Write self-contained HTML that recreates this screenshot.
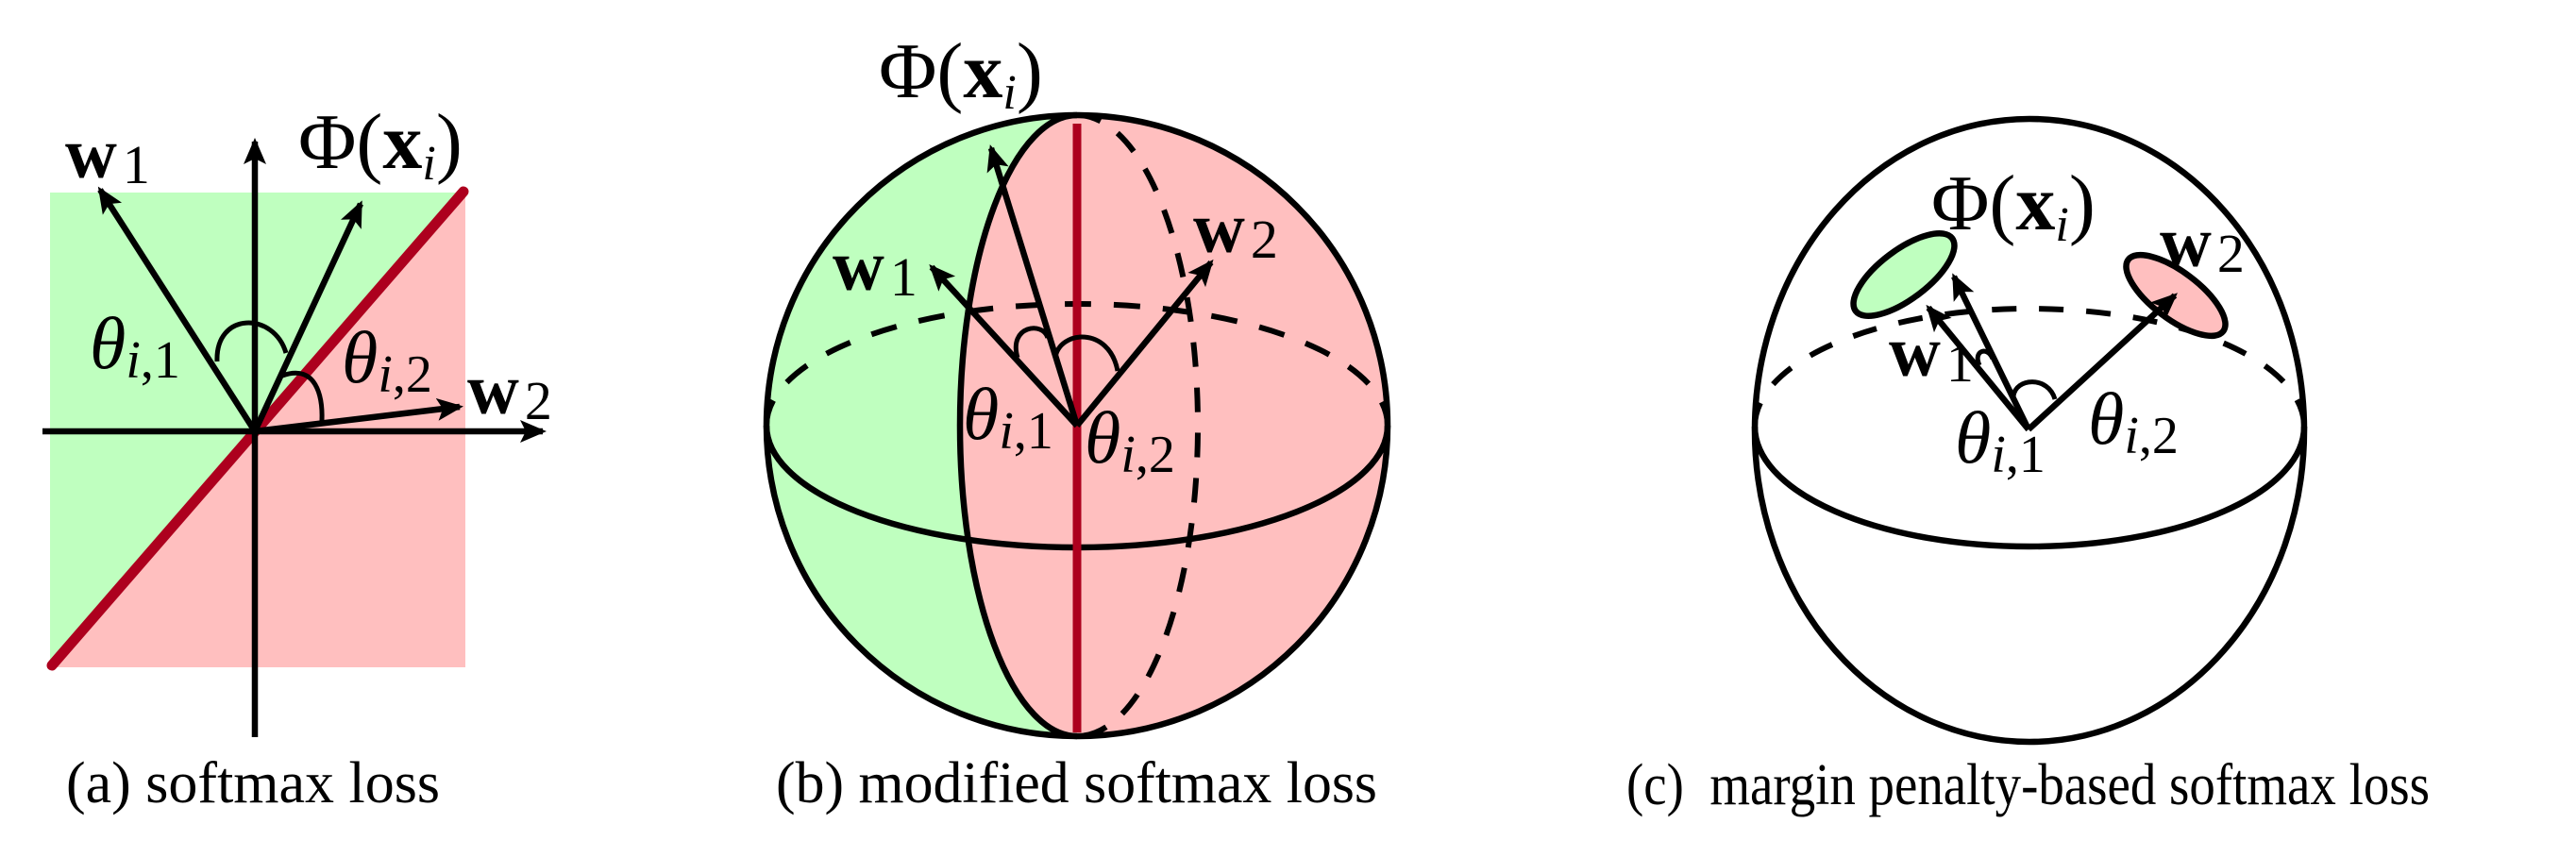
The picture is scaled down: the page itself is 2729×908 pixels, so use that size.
<!DOCTYPE html>
<html><head><meta charset="utf-8"><style>
html,body{margin:0;padding:0;background:#fff;}
svg{display:block;}
text{font-family:"Liberation Serif",serif;fill:#000;}
</style></head><body>
<svg width="2729" height="908" viewBox="0 0 2729 908" xmlns="http://www.w3.org/2000/svg">
<defs>
<marker id="ah" markerUnits="userSpaceOnUse" markerWidth="36" markerHeight="28" refX="24" refY="12" orient="auto">
<path d="M0,0 L28,12 L0,24 L6,12 Z" fill="#000"/>
</marker>
</defs>

<!-- Panel a -->
<rect x="53" y="204" width="440" height="503" fill="#bfffbf"/>
<polygon points="493,202 493,707 55,707" fill="#ffbfbf"/>
<line x1="55" y1="705" x2="491" y2="203" stroke="#ad001e" stroke-width="11" stroke-linecap="round"/>
<line x1="45" y1="457" x2="575" y2="457" stroke="#000" stroke-width="6.5" marker-end="url(#ah)"/>
<line x1="270" y1="781" x2="270" y2="150" stroke="#000" stroke-width="6.5" marker-end="url(#ah)"/>
<line x1="270" y1="457" x2="106" y2="201" stroke="#000" stroke-width="6.5" marker-end="url(#ah)"/>
<line x1="270" y1="457" x2="382" y2="216" stroke="#000" stroke-width="6.5" marker-end="url(#ah)"/>
<line x1="270" y1="457" x2="487" y2="431" stroke="#000" stroke-width="6.5" marker-end="url(#ah)"/>
<path d="M230,383 C228,330 290,330 303,374" fill="none" stroke="#000" stroke-width="5"/>
<path d="M299,398 C335,385 342,420 341,446" fill="none" stroke="#000" stroke-width="5"/>
<text x="69" y="188" font-size="76" font-weight="bold">w<tspan font-size="58" font-weight="normal" dx="6" dy="6">1</tspan></text>
<text x="316" y="178" font-size="84">Φ(<tspan font-weight="bold">x</tspan><tspan font-size="52" font-style="italic" dy="12">i</tspan><tspan dy="-12">)</tspan></text>
<text x="95" y="390" font-size="78" font-style="italic">θ<tspan font-size="56" dy="10">i</tspan><tspan font-size="56" font-style="normal">,1</tspan></text>
<text x="362" y="405" font-size="78" font-style="italic">θ<tspan font-size="56" dy="10">i</tspan><tspan font-size="56" font-style="normal">,2</tspan></text>
<text x="495" y="438" font-size="76" font-weight="bold">w<tspan font-size="58" font-weight="normal" dx="6" dy="6">2</tspan></text>
<text x="70" y="850" font-size="62" textLength="396" lengthAdjust="spacingAndGlyphs">(a) softmax loss</text>

<!-- Panel b -->
<circle cx="1141" cy="451" r="329" fill="#ffbfbf"/>
<path d="M1141,122 A329,329 0 0 0 1141,780 A124,329 0 0 1 1141,122 Z" fill="#bfffbf"/>
<path d="M1141,122 A124,329 0 0 0 1141,780" fill="none" stroke="#000" stroke-width="6.5"/>
<path d="M1141,122 A128,329 0 0 1 1141,780" fill="none" stroke="#000" stroke-width="6" stroke-dasharray="26,22"/>
<path d="M812,451 A329,129 0 0 0 1470,451" fill="none" stroke="#000" stroke-width="6.5"/>
<path d="M812,451 A329,129 0 0 1 1470,451" fill="none" stroke="#000" stroke-width="6" stroke-dasharray="28,24"/>
<line x1="1141" y1="131" x2="1141" y2="776" stroke="#ad001e" stroke-width="9"/>
<circle cx="1141" cy="451" r="329" fill="none" stroke="#000" stroke-width="6.5"/>
<line x1="1141" y1="451" x2="1050" y2="157" stroke="#000" stroke-width="6.5" marker-end="url(#ah)"/>
<line x1="1141" y1="451" x2="987" y2="283" stroke="#000" stroke-width="6.5" marker-end="url(#ah)"/>
<line x1="1141" y1="451" x2="1283" y2="278" stroke="#000" stroke-width="6.5" marker-end="url(#ah)"/>
<path d="M1078,379 C1068,345 1105,340 1110,358" fill="none" stroke="#000" stroke-width="5"/>
<path d="M1118,379 C1122,350 1175,345 1184,393" fill="none" stroke="#000" stroke-width="5"/>
<text x="931" y="103" font-size="84">Φ(<tspan font-weight="bold">x</tspan><tspan font-size="52" font-style="italic" dy="12">i</tspan><tspan dy="-12">)</tspan></text>
<text x="882" y="307" font-size="76" font-weight="bold">w<tspan font-size="58" font-weight="normal" dx="6" dy="6">1</tspan></text>
<text x="1264" y="267" font-size="76" font-weight="bold">w<tspan font-size="58" font-weight="normal" dx="6" dy="6">2</tspan></text>
<text x="1020" y="465" font-size="78" font-style="italic">θ<tspan font-size="56" dy="10">i</tspan><tspan font-size="56" font-style="normal">,1</tspan></text>
<text x="1149" y="490" font-size="78" font-style="italic">θ<tspan font-size="56" dy="10">i</tspan><tspan font-size="56" font-style="normal">,2</tspan></text>
<text x="822" y="850" font-size="62" textLength="637" lengthAdjust="spacingAndGlyphs">(b) modified softmax loss</text>

<!-- Panel c -->
<ellipse cx="2150" cy="456" rx="291" ry="330" fill="none" stroke="#000" stroke-width="6.5"/>
<path d="M1859,452 A291,127 0 0 0 2441,452" fill="none" stroke="#000" stroke-width="6.5"/>
<path d="M1859,452 A291,125 0 0 1 2441,452" fill="none" stroke="#000" stroke-width="6" stroke-dasharray="26,24"/>
<ellipse cx="2017" cy="291" rx="64" ry="26" transform="rotate(-37 2017 291)" fill="#bfffbf" stroke="#000" stroke-width="6.5"/>
<ellipse cx="2305" cy="313" rx="63" ry="25" transform="rotate(37 2305 313)" fill="#ffbfbf" stroke="#000" stroke-width="6.5"/>
<line x1="2149" y1="455" x2="2070" y2="293" stroke="#000" stroke-width="6.5" marker-end="url(#ah)"/>
<line x1="2149" y1="455" x2="2043" y2="326" stroke="#000" stroke-width="6.5" marker-end="url(#ah)"/>
<line x1="2149" y1="455" x2="2304" y2="313" stroke="#000" stroke-width="6.5" marker-end="url(#ah)"/>
<path d="M2097,387 C2090,372 2105,366 2111,380" fill="none" stroke="#000" stroke-width="5"/>
<path d="M2133,420 C2135,400 2170,398 2177,423" fill="none" stroke="#000" stroke-width="5"/>
<text x="2046" y="243" font-size="84">Φ(<tspan font-weight="bold">x</tspan><tspan font-size="52" font-style="italic" dy="12">i</tspan><tspan dy="-12">)</tspan></text>
<text x="2288" y="282" font-size="76" font-weight="bold">w<tspan font-size="58" font-weight="normal" dx="6" dy="6">2</tspan></text>
<text x="2001" y="398" font-size="76" font-weight="bold">w<tspan font-size="58" font-weight="normal" dx="6" dy="6">1</tspan></text>
<text x="2071" y="490" font-size="78" font-style="italic">θ<tspan font-size="56" dy="10">i</tspan><tspan font-size="56" font-style="normal">,1</tspan></text>
<text x="2212" y="470" font-size="78" font-style="italic">θ<tspan font-size="56" dy="10">i</tspan><tspan font-size="56" font-style="normal">,2</tspan></text>
<text x="1723" y="852" font-size="62" textLength="851" lengthAdjust="spacingAndGlyphs" xml:space="preserve">(c)  margin penalty-based softmax loss</text>
</svg>
</body></html>
